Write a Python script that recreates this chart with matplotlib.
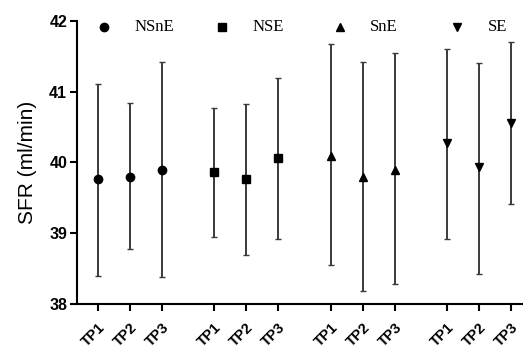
import matplotlib.pyplot as plt
import numpy as np

plt.rcParams["font.family"] = ["Liberation Sans", "DejaVu Sans"]

GROUPS = ["NSnE", "NSE", "SnE", "SE"]
MARKERS = ["o", "s", "^", "v"]
TIMEPOINTS = ["TP1", "TP2", "TP3"]

# mean, upper and lower error bar ends per group (TP1, TP2, TP3)
MEANS = [
    [39.76, 39.80, 39.90],
    [39.86, 39.76, 40.06],
    [40.09, 39.80, 39.90],
    [40.27, 39.93, 40.56],
]
UPPER = [
    [41.11, 40.84, 41.42],
    [40.77, 40.82, 41.20],
    [41.68, 41.42, 41.55],
    [41.60, 41.40, 41.70],
]
LOWER = [
    [38.39, 38.77, 38.38],
    [38.94, 38.69, 38.92],
    [38.55, 38.18, 38.28],
    [38.92, 38.42, 39.42],
]

GROUP_STEP = 1.64

fig = plt.figure(figsize=(5.23, 3.49), dpi=100)
ax = fig.add_axes([0.147, 0.129, 0.853, 0.811])

all_x = []
for g, name in enumerate(GROUPS):
    x = np.arange(3) + g * (2 + GROUP_STEP)
    all_x.extend(x)
    mean = np.array(MEANS[g])
    yerr = [mean - np.array(LOWER[g]), np.array(UPPER[g]) - mean]
    ax.errorbar(
        x, mean, yerr=yerr, fmt=MARKERS[g], color="black", markersize=6,
        ecolor="#3a3a3a", elinewidth=1.4, capsize=2, capthick=1.0,
    )
    # legend entry in the top row
    lx = g * 3.68 + 0.2
    ax.plot([lx], [41.92], marker=MARKERS[g], color="black", markersize=6,
            linestyle="none", clip_on=False)
    ax.text(lx + 0.95, 41.92, name, family="Liberation Serif", fontsize=12,
            va="center", ha="left")

ax.set_ylim(38, 42)
ax.set_xlim(-0.66, 13.3)
ax.set_yticks([38, 39, 40, 41, 42])
ax.set_yticklabels(["38", "39", "40", "41", "42"], fontweight="bold", fontsize=11.5)
ax.set_xticks(all_x)
ax.set_xticklabels(TIMEPOINTS * 4, rotation=45, ha="right", rotation_mode="anchor",
                   fontweight="bold", fontsize=10.5)
ax.set_ylabel("SFR (ml/min)", fontsize=15, labelpad=9)

ax.spines["top"].set_visible(False)
ax.spines["right"].set_visible(False)
ax.spines["left"].set_linewidth(1.5)
ax.spines["bottom"].set_linewidth(1.5)
ax.tick_params(axis="both", direction="out", length=5, width=1.5)
ax.tick_params(axis="y", pad=2)
ax.tick_params(axis="x", pad=7)

fig.savefig("out.png", dpi=100, facecolor="white")
